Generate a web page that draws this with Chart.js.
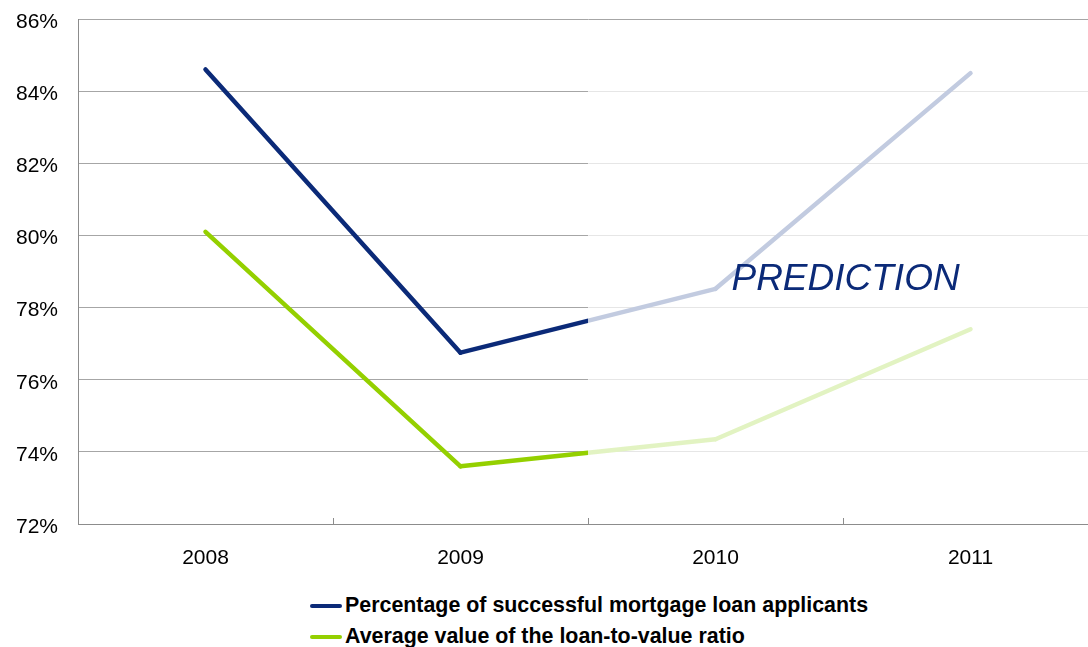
<!DOCTYPE html>
<html>
<head>
<meta charset="utf-8">
<title>Mortgage loans 2008-2011</title>
<script src="https://cdn.jsdelivr.net/npm/chart.js@4/dist/chart.umd.min.js"></script>
<style>
    html, body { margin: 0; padding: 0; background: #fff; overflow: hidden; }
    body { width: 1088px; height: 647px; position: relative; }
    #wrap { position: absolute; left: 0; top: 0; width: 1098px; height: 580px; }
    #legend { position: absolute; left: 310px; top: 590px; font: bold 21.4px Arial, "Liberation Sans", sans-serif; color: #000; }
    #legend .row { display: flex; align-items: center; height: 31px; white-space: nowrap; }
    #legend .swatch { display: inline-block; width: 32px; height: 4px; border-radius: 2px; margin-right: 3px; }
</style>
</head>
<body>
<div id="wrap"><canvas id="mortgageChart"></canvas></div>
<div id="legend"></div>
<script>
var years = ["2008", "2009", "2010", "2011"];
var applicantsLabel = "Percentage of successful mortgage loan applicants";
var applicants = [84.6, 76.75, 78.52, 84.5];
var ltvLabel = "Average value of the loan-to-value ratio";
var ltv = [80.1, 73.6, 74.35, 77.4];
var yTicks = [72, 74, 76, 78, 80, 82, 84, 86];

// actual figures stop half way between 2009 and 2010, the rest is forecast
var forecastFrom = 1.5;
var noteText = "PREDICTION";

var navy = "#0b2a78", navyLight = "#c2cbe0";
var lime = "#94d000", limeLight = "#e2f3c2";

function splitColor(dark, light) {
    return function(c) {
        if (c.p1DataIndex <= Math.floor(forecastFrom)) return dark;
        if (c.p0DataIndex >= Math.ceil(forecastFrom)) return light;
        var f = forecastFrom - c.p0DataIndex;
        var g = c.chart.ctx.createLinearGradient(c.p0.x, 0, c.p1.x, 0);
        g.addColorStop(0, dark);
        g.addColorStop(f, dark);
        g.addColorStop(f, light);
        g.addColorStop(1, light);
        return g;
    };
}

// fade the grid over the forecast part and write the note on it
var forecastArea = {
    id: "forecastArea",
    beforeDatasetsDraw: function(chart) {
        var ctx = chart.ctx, a = chart.chartArea;
        var xs = chart.scales.x.getPixelForValue(forecastFrom);
        ctx.save();
        ctx.fillStyle = "rgba(255,255,255,0.72)";
        ctx.fillRect(xs, a.top + 1, a.right - xs, a.bottom - a.top - 2);
        ctx.restore();
    },
    afterDatasetsDraw: function(chart) {
        var ctx = chart.ctx;
        ctx.save();
        ctx.font = "italic 37px Arial, 'Liberation Sans', sans-serif";
        ctx.fillStyle = navy;
        ctx.textAlign = "center";
        ctx.textBaseline = "alphabetic";
        ctx.fillText(noteText, chart.scales.x.getPixelForValue(2.51), chart.scales.y.getPixelForValue(78.5));
        ctx.restore();
    }
};

var ctx = document.getElementById("mortgageChart");
var myChart = new Chart(ctx, {
    type: "line",
    data: {
        labels: years,
        datasets: [
            {
                label: applicantsLabel,
                data: applicants,
                borderColor: navy,
                borderWidth: 4.5,
                segment: { borderColor: splitColor(navy, navyLight) }
            },
            {
                label: ltvLabel,
                data: ltv,
                borderColor: lime,
                borderWidth: 4.5,
                segment: { borderColor: splitColor(lime, limeLight) }
            }
        ]
    },
    options: {
        responsive: true,
        maintainAspectRatio: false,
        devicePixelRatio: 1,
        animation: false,
        layout: { padding: { top: 19, right: 0, bottom: 0, left: 0 } },
        elements: {
            line: { tension: 0, borderCapStyle: "round", borderJoinStyle: "round" },
            point: { radius: 0, hoverRadius: 0 }
        },
        plugins: {
            legend: { display: false },
            tooltip: { enabled: false }
        },
        scales: {
            x: {
                type: "category",
                offset: true,
                afterFit: function(scale) {
                    scale.height = 56;
                    scale.paddingLeft = 0;
                    scale.paddingRight = 0;
                },
                grid: {
                    offset: true,
                    drawOnChartArea: false,
                    drawTicks: true,
                    tickLength: -6,
                    color: "#8c8c8c",
                    z: 1
                },
                // border after the grid layer, it needs the position the grid works out
                border: { color: "#8c8c8c", width: 1, z: 2 },
                ticks: {
                    color: "#000",
                    padding: 28,
                    font: { family: "Arial, 'Liberation Sans', sans-serif", size: 21 }
                }
            },
            y: {
                min: yTicks[0],
                max: yTicks[yTicks.length - 1],
                afterFit: function(scale) {
                    scale.width = 78;
                    scale.paddingTop = 0;
                    scale.paddingBottom = 0;
                },
                afterBuildTicks: function(scale) {
                    scale.ticks = yTicks.map(function(v) { return { value: v }; });
                },
                grid: { color: "#a6a6a6", drawTicks: false },
                border: { color: "#8c8c8c", width: 1 },
                ticks: {
                    color: "#000",
                    padding: 20,
                    labelOffset: 3,
                    font: { family: "Arial, 'Liberation Sans', sans-serif", size: 21 },
                    callback: function(v) { return v + "%"; }
                }
            }
        }
    },
    plugins: [forecastArea]
});

// legend in two rows under the plot
var legendBox = document.getElementById("legend");
[[applicantsLabel, navy], [ltvLabel, lime]].forEach(function(item) {
    var row = document.createElement("div");
    row.className = "row";
    var sw = document.createElement("span");
    sw.className = "swatch";
    sw.style.background = item[1];
    row.appendChild(sw);
    row.appendChild(document.createTextNode(item[0]));
    legendBox.appendChild(row);
});
</script>
</body>
</html>
